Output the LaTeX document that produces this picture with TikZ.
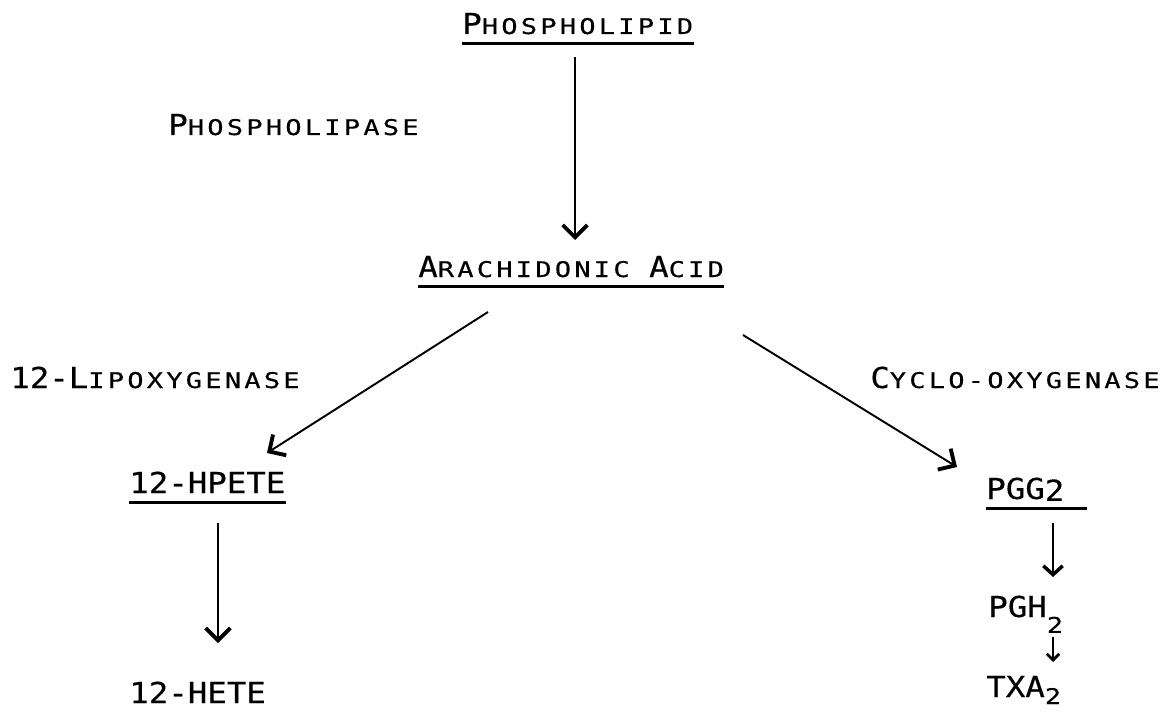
\documentclass[tikz,border=0pt]{standalone}
\usepackage{fontspec}
\usepackage{tikz}
\usetikzlibrary{arrows.meta, calc, positioning}

\newfontfamily\twbig[FakeStretch=1.124, FakeBold=0.4]{DejaVu Sans Mono}
\newfontfamily\twsmall[FakeStretch=1.25, LetterSpace=15, FakeBold=0.4]{DejaVu Sans Mono}
\newcommand{\tb}{\twbig\fontsize{16.4pt}{19pt}\selectfont}
\newcommand{\ts}{\twsmall\fontsize{12.3pt}{14pt}\selectfont}

\begin{document}
\begin{tikzpicture}[x=0.02cm, y=-0.02cm,
		txt/.style={font=\tb, inner sep=0pt, anchor=base west},
		title/.style={txt, text depth=0pt, inner ysep=5.1pt},
		uline/.style={line width=1.4pt},
		arr/.style={line width=1.1pt, -{Straight Barb[length=7pt, width=14pt, line width=2.2pt]}},
		arrs/.style={line width=1pt, -{Straight Barb[length=5pt, width=11pt, line width=2pt]}},
		arrxs/.style={line width=0.9pt, -{Straight Barb[length=3.5pt, width=7pt, line width=1.6pt]}}]
			\fill[white] (0,0) rectangle (1171,713);
			\useasboundingbox (0,0) rectangle (1171,713);

			\node[title] (pl) at (462,34) {P{\ts HOSPHOLIPID}};
			\node[txt] (pase) at (168,135) {P{\ts HOSPHOLIPASE}};
			\node[title] (aa) at (418,277) {A{\ts RACHIDONIC }A{\ts CID}};
			\node[txt] (lox) at (10,388) {12-L{\ts IPOXYGENASE}};
			\node[txt] (cox) at (870,388) {C{\ts YCLO-OXYGENASE}};
			\node[title] (hpete) at (129,493) {12-HPETE};
			\node[txt] (hete) at (129,703) {12-HETE};
			\node[title] (pgg) at (986,499) {PGG\raisebox{-1pt}{2}};
			\node[txt] (pgh) at (988,617) {PGH\raisebox{-9pt}{\ts 2}};
			\node[txt] (txa) at (986,697) {TXA\raisebox{-4pt}{\ts 2}};

			\draw[uline] (pl.south west) -- (pl.south east);
			\draw[uline] (aa.south west) -- (aa.south east);
			\draw[uline] (hpete.south west) -- (hpete.south east);
			\draw[uline] (pgg.south west) -- ($(pgg.south east)+(22,0)$);

			\draw[arr] ($(pl.base west)+(113,23)$) -- ($(aa.base west)+(157,-37)$);
			\draw[arr] ($(aa.base west)+(70,35)$) -- ($(hpete.base west)+(138,-40)$);
			\draw[arr] ($(aa.base west)+(325,58)$) -- ($(pgg.base west)+(-29,-32)$);
			\draw[arr] ($(hpete.base west)+(89,30)$) -- ($(hete.base west)+(89,-60)$);
			\draw[arrs] ($(pgg.base west)+(67,24)$) -- ($(pgh.base west)+(65,-40)$);
			\draw[arrxs] ($(pgh.base west)+(65,20)$) -- ($(txa.base west)+(67,-35)$);
		\end{tikzpicture}
\end{document}
